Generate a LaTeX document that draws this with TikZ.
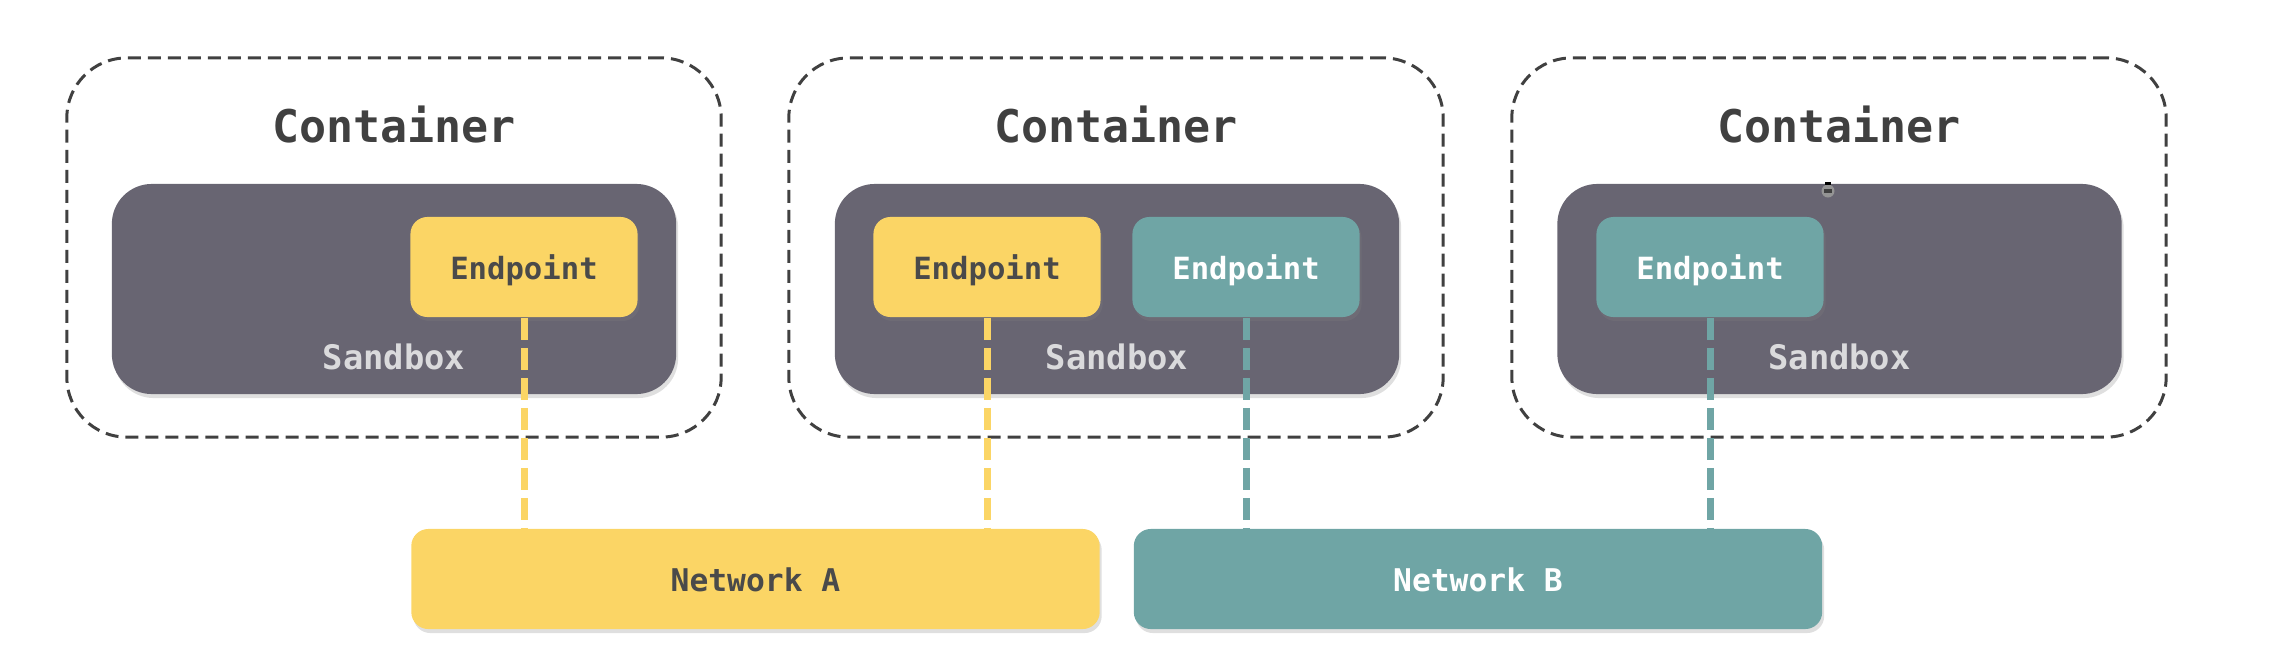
\documentclass[tikz,border=0pt]{standalone}
\usepackage{fontspec}
\setmonofont{DejaVu Sans Mono}
\usetikzlibrary{shadows}

\definecolor{ctext}{HTML}{404040}
\definecolor{sbfill}{HTML}{686572}
\definecolor{sbtext}{HTML}{DADADC}
\definecolor{neta}{HTML}{FBD565}
\definecolor{netb}{HTML}{6FA5A5}
\definecolor{dtext}{HTML}{4A4A4A}

\tikzset{
    container/.style={draw=ctext, line width=0.85pt, dash pattern=on 0.13cm off 0.07cm,
        rounded corners=0.6cm, minimum width=6.54cm, minimum height=3.79cm},
    sandbox/.style={fill=sbfill, rounded corners=0.4cm, minimum width=5.64cm, minimum height=2.1cm,
        drop shadow={shadow xshift=0.02cm, shadow yshift=-0.04cm, opacity=0.25}},
    endpoint/.style={rounded corners=0.17cm, minimum width=2.27cm, minimum height=1cm,
        font=\ttfamily\bfseries\fontsize{8.7}{10}\selectfont, text height=0.73em, text depth=0pt,
        drop shadow={shadow xshift=0.02cm, shadow yshift=-0.04cm, opacity=0.25}},
    epa/.style={endpoint, fill=neta, text=dtext},
    epb/.style={endpoint, fill=netb, text=white},
    network/.style={endpoint, minimum width=6.88cm, font=\ttfamily\bfseries\fontsize{8.9}{10}\selectfont},
    ctitle/.style={anchor=base, text=ctext, font=\ttfamily\bfseries\fontsize{12.8}{15}\selectfont},
    sblabel/.style={anchor=base, text=sbtext, font=\ttfamily\bfseries\fontsize{9.6}{11}\selectfont},
    link/.style={line width=0.07cm, dash pattern=on 0.22cm off 0.08cm}
}

\begin{document}
\begin{tikzpicture}[x=0.01cm, y=-0.01cm]
    \useasboundingbox (0,0) rectangle (2278,648);
    % containers
    \node[container] (c1) at (394, 247.5) {};
    \node[container] (c2) at (1116, 247.5) {};
    \node[container] (c3) at (1839, 247.5) {};
    \node[ctitle] at (394, 142) {Container};
    \node[ctitle] at (1116, 142) {Container};
    \node[ctitle] at (1839, 142) {Container};
    % sandboxes
    \node[sandbox] (sb1) at (394, 289) {};
    \node[sandbox] (sb2) at (1117, 289) {};
    \node[sandbox] (sb3) at (1839.5, 289) {};
    \node[sblabel] at (394, 369) {Sandbox};
    \node[sblabel] at (1117, 369) {Sandbox};
    \node[sblabel] at (1839.5, 369) {Sandbox};
    % endpoints
    \node[epa] (e1) at (524, 267) {Endpoint};
    \node[epa] (e2a) at (987, 267) {Endpoint};
    \node[epb] (e2b) at (1246, 267) {Endpoint};
    \node[epb] (e3) at (1710, 267) {Endpoint};
    % networks
    \node[network, fill=neta, text=dtext] (na) at (755.5, 579) {Network A};
    \node[network, fill=netb, text=white] (nb) at (1478, 579) {Network B};
    \draw[link, neta] (e1.south) -- (e1.south |- na.north);
    \draw[link, neta] (e2a.south) -- (e2a.south |- na.north);
    \draw[link, netb] (e2b.south) -- (e2b.south |- nb.north);
    \draw[link, netb] (e3.south) -- (e3.south |- nb.north);
    % small handle on the third sandbox
    \fill[black!40!gray!60] (1828, 191) circle (0.065cm);
    \fill[black!75] (1824, 189) rectangle (1832, 193);
    \fill[black] (1825, 182) rectangle (1831, 184.5);
\end{tikzpicture}
\end{document}
